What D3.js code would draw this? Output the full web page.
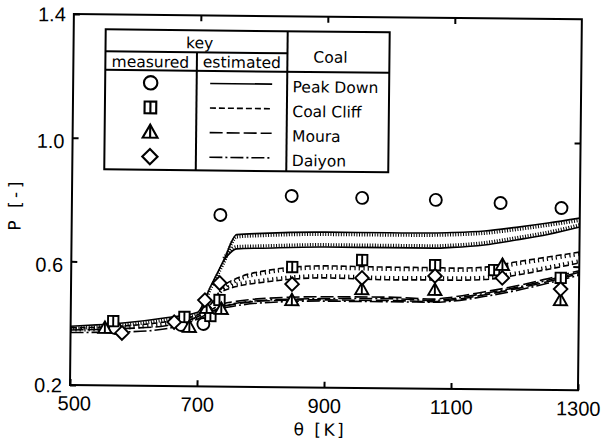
<!DOCTYPE html>
<html>
<head>
<meta charset="utf-8">
<script src="https://cdn.jsdelivr.net/npm/d3@7"></script>
<style>
  html, body { margin: 0; padding: 0; background: #fff; }
  svg { display: block; }
</style>
</head>
<body>
<svg id="chart" width="601" height="443"></svg>
<script>
// ---- axis ticks ----
const xTicks = [500, 700, 900, 1100, 1300];
const yTicks = [0.2, 0.6, 1.0, 1.4];

// ---- legend rows ----
const coals = ["Peak Down", "Coal Cliff", "Moura", "Daiyon"];
const markerTypes = ["circle", "square", "triangle", "diamond"];
const lineDashes = [null, "6,3", "13,4", "13,3,2,3"];

// ---- measured P vs temperature ----
const peakDownT = [570, 674, 709, 734, 846, 957, 1073, 1175, 1271];
const peakDownP = [0.386, 0.398, 0.402, 0.755, 0.819, 0.815, 0.811, 0.803, 0.789];
const coalCliffT = [567, 679, 720, 734, 848, 958, 1073, 1166, 1271];
const coalCliffP = [0.408, 0.424, 0.428, 0.480, 0.589, 0.614, 0.600, 0.586, 0.563];
const mouraT = [554, 687, 714, 737, 848, 958, 1073, 1179, 1271];
const mouraP = [0.386, 0.392, 0.454, 0.451, 0.482, 0.520, 0.520, 0.603, 0.491];
const daiyonT = [581, 663, 711, 734, 848, 958, 1073, 1179, 1271];
const daiyonP = [0.370, 0.407, 0.479, 0.535, 0.534, 0.556, 0.565, 0.561, 0.527];

// ---- estimated bands (upper / lower edge) on a common temperature grid ----
const estT = [500, 590, 650, 700, 720, 740, 760, 800, 900, 1000, 1070, 1100, 1150, 1200, 1250, 1300];
const peakDownHi = [0.390, 0.404, 0.421, 0.440, 0.525, 0.608, 0.692, 0.697, 0.703, 0.703, 0.704, 0.706, 0.712, 0.725, 0.740, 0.757];
const peakDownLo = [null, null, null, null, null, 0.608, 0.646, 0.649, 0.655, 0.655, 0.655, 0.658, 0.667, 0.684, 0.703, 0.728];
const coalCliffHi = [0.385, 0.394, 0.408, 0.432, 0.465, 0.525, 0.550, 0.574, 0.594, 0.592, 0.592, 0.591, 0.595, 0.613, 0.630, 0.647];
const coalCliffLo = [null, null, null, null, null, 0.510, 0.524, 0.538, 0.555, 0.551, 0.552, 0.552, 0.555, 0.570, 0.590, 0.612];
const mouraHi = [0.378, 0.385, 0.395, 0.425, 0.447, 0.468, 0.476, 0.486, 0.494, 0.495, 0.490, 0.497, 0.515, 0.535, 0.560, 0.587];
const mouraLo = [null, null, null, null, null, 0.460, 0.468, 0.478, 0.484, 0.484, 0.482, 0.488, 0.505, 0.526, 0.550, 0.577];
const daiyonHi = [0.370, 0.374, 0.385, 0.418, 0.440, 0.460, 0.470, 0.480, 0.488, 0.490, 0.486, 0.492, 0.510, 0.530, 0.555, 0.582];
const daiyonLo = [null, null, null, null, null, 0.454, 0.462, 0.472, 0.480, 0.480, 0.480, 0.484, 0.500, 0.520, 0.545, 0.572];

// ---- layout ----
const L = 70, R = 578, T = 14, B = 385;
const x = d3.scaleLinear().domain([500, 1300]).range([L, R]);
const y = d3.scaleLinear().domain([0.2, 1.4]).range([B, T]);

const svg = d3.select("#chart");
// the whole sheet sits at a slight clockwise tilt
const root = svg.append("g").attr("transform", `rotate(0.6,${L},${B})`);

// ---- estimated curves ----
const lineGen = d3.line()
  .defined(d => d[1] != null)
  .x(d => x(d[0])).y(d => y(d[1]))
  .curve(d3.curveMonotoneX);
const pts = arr => estT.map((t, i) => [t, arr[i]]);

const estG = root.append("g").attr("fill", "none").attr("stroke", "#000");

function drawEdge(arr, dash, hatchSide, hatchDash) {
  const d = lineGen(pts(arr));
  const p = estG.append("path").attr("d", d).attr("stroke-width", 1.6);
  if (dash) p.attr("stroke-dasharray", dash);
  if (hatchSide) {
    estG.append("path").attr("d", d)
      .attr("transform", `translate(0,${hatchSide * 2.2})`)
      .attr("stroke-width", 3.4)
      .attr("stroke-dasharray", hatchDash);
  }
}
// Peak Down: solid band, hatched on its inner side
drawEdge(peakDownHi, null, +1, "1,1.6");
drawEdge(peakDownLo, null, -1, "1,1.6");
// Coal Cliff: dashed band, hatched on its inner side
drawEdge(coalCliffHi, lineDashes[1], +1, "1.2,3.6,1.2,3");
drawEdge(coalCliffLo, lineDashes[1], -1, "1.2,3.6,1.2,3");
// Moura, Daiyon: narrow plain bands
drawEdge(mouraHi, lineDashes[2]);
drawEdge(mouraLo, lineDashes[2]);
drawEdge(daiyonHi, lineDashes[3]);
drawEdge(daiyonLo, lineDashes[3]);

// ---- markers ----
function marker(g, type, cx, cy, big) {
  const k = big ? 1.12 : 1;
  const s = g.append("g").attr("transform", `translate(${cx},${cy}) scale(${k})`)
    .attr("fill", "#fff").attr("stroke", "#000").attr("stroke-width", 1.9);
  if (type === "circle") {
    s.append("circle").attr("r", 6);
  } else if (type === "square") {
    s.append("rect").attr("x", -5.2).attr("y", -5.2).attr("width", 10.4).attr("height", 10.4);
    s.append("line").attr("x1", 0).attr("x2", 0).attr("y1", -5.2).attr("y2", 5.2);
  } else if (type === "triangle") {
    s.append("path").attr("d", "M0,-6.5L6.6,5L-6.6,5Z");
    s.append("line").attr("x1", 0).attr("x2", 0).attr("y1", -6.5).attr("y2", 5);
  } else {
    s.append("path").attr("d", "M0,-6.8L6.8,0L0,6.8L-6.8,0Z");
  }
}

const measured = [
  [peakDownT, peakDownP, "circle"],
  [coalCliffT, coalCliffP, "square"],
  [mouraT, mouraP, "triangle"],
  [daiyonT, daiyonP, "diamond"]
];
const mkG = root.append("g");
measured.forEach(([ts, ps, type]) => {
  ts.forEach((t, i) => marker(mkG, type, x(t), y(ps[i]), false));
});

// ---- axes ----
const numFont = "'Liberation Sans', Arial, sans-serif";
const bottomAxis = root.append("g").attr("transform", `translate(0,${B})`)
  .call(d3.axisBottom(x).tickValues(xTicks).tickFormat(d3.format("d"))
    .tickSizeInner(-6).tickSizeOuter(0).tickPadding(11));
bottomAxis.select(".domain").remove();
bottomAxis.attr("font-family", numFont).attr("font-size", 20);
bottomAxis.selectAll("line").attr("stroke-width", 2);
bottomAxis.selectAll("text").attr("fill", "#000").attr("dx", d => d === 500 ? 4 : 0);

const leftAxis = root.append("g").attr("transform", `translate(${L},0)`)
  .call(d3.axisLeft(y).tickValues(yTicks).tickFormat(d3.format(".1f"))
    .tickSizeInner(-6).tickSizeOuter(0).tickPadding(8));
leftAxis.select(".domain").remove();
leftAxis.attr("font-family", numFont).attr("font-size", 20);
leftAxis.selectAll("line").attr("stroke-width", 2);
leftAxis.selectAll("text").attr("fill", "#000")
  .attr("dy", d => (d === 0.2 || d === 1.4) ? "0.35em" : "0.5em");

const topAxis = root.append("g").attr("transform", `translate(0,${T})`)
  .call(d3.axisTop(x).tickValues([700, 900, 1100]).tickFormat("").tickSizeInner(-6).tickSizeOuter(0));
topAxis.select(".domain").remove();
topAxis.selectAll("line").attr("stroke-width", 2);

const rightAxis = root.append("g").attr("transform", `translate(${R},0)`)
  .call(d3.axisRight(y).tickValues([0.6, 1.0]).tickFormat("").tickSizeInner(-6).tickSizeOuter(0));
rightAxis.select(".domain").remove();
rightAxis.selectAll("line").attr("stroke-width", 2);

// plot frame
root.append("rect").attr("x", L).attr("y", T).attr("width", R - L).attr("height", B - T)
  .attr("fill", "none").attr("stroke", "#000").attr("stroke-width", 2);

// axis titles
const txtFont = "'DejaVu Sans', Verdana, sans-serif";
root.append("text").attr("x", 294).attr("y", 433)
  .attr("font-family", txtFont).attr("font-size", 17).attr("letter-spacing", 2.5)
  .text("θ [K]");
root.append("text").attr("transform", "translate(19,205) rotate(-90)")
  .attr("text-anchor", "middle")
  .attr("font-family", txtFont).attr("font-size", 17).attr("letter-spacing", 3.5)
  .text("P [-]");

// ---- key table ----
const key = root.append("g");
const kL = 102, kR = 386, kT = 29, kB = 169, kMid = 284, kCol = 193.5, kRow1 = 51, kRow2 = 69.5;
key.append("rect").attr("x", kL).attr("y", kT).attr("width", kR - kL).attr("height", kB - kT)
  .attr("fill", "#fff").attr("stroke", "#000").attr("stroke-width", 2);
const rule = (x1, y1, x2, y2) => key.append("line")
  .attr("x1", x1).attr("y1", y1).attr("x2", x2).attr("y2", y2)
  .attr("stroke", "#000").attr("stroke-width", 2);
rule(kMid, kT, kMid, kB);
rule(kL, kRow1, kMid, kRow1);
rule(kL, kRow2, kR, kRow2);
rule(kCol, kRow1, kCol, kB);

const hdr = (tx, ty, s) => key.append("text").attr("x", tx).attr("y", ty)
  .attr("text-anchor", "middle").attr("font-family", txtFont).attr("font-size", 15.5).text(s);
hdr(196, 47, "key");
hdr(147, 66.5, "measured");
hdr(238.5, 66, "estimated");
hdr(327, 60, "Coal");

coals.forEach((name, i) => {
  const ry = 82 + i * 24.6;
  marker(key, markerTypes[i], 147.5, ry, true);
  const ln = key.append("line").attr("x1", 207).attr("x2", 269).attr("y1", ry).attr("y2", ry)
    .attr("stroke", "#000").attr("stroke-width", 1.6);
  if (lineDashes[i]) ln.attr("stroke-dasharray", lineDashes[i]);
  key.append("text").attr("x", 289.5).attr("y", ry + 8)
    .attr("font-family", txtFont).attr("font-size", 15.5).text(name);
});
</script>
</body>
</html>
